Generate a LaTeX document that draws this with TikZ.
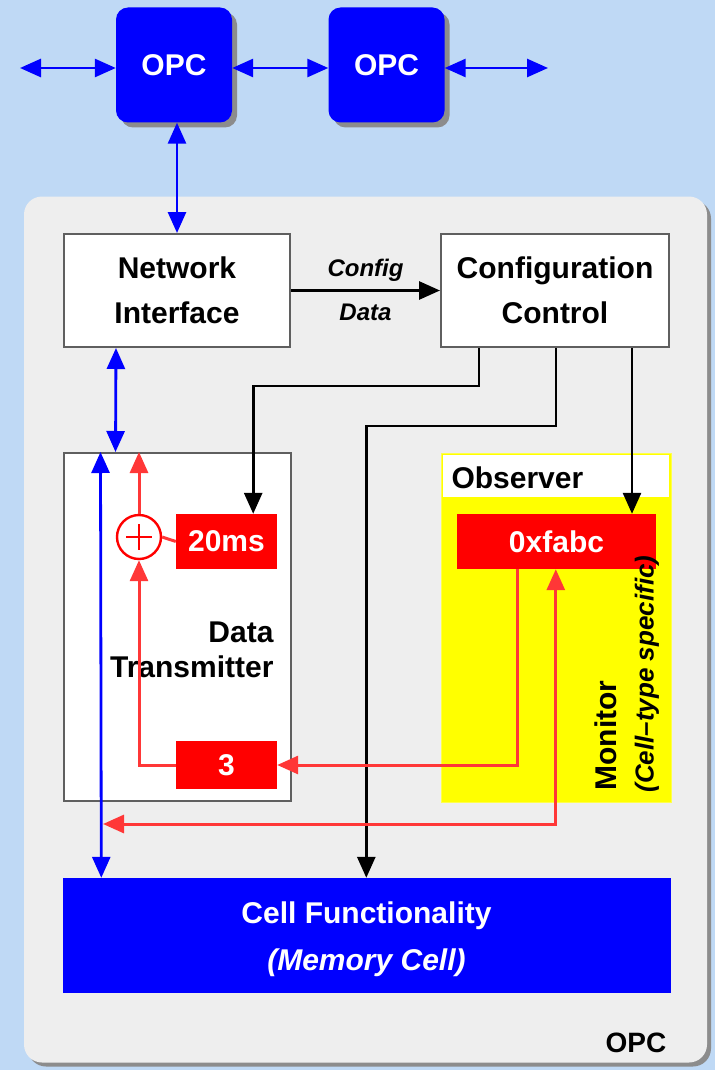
\documentclass[tikz,border=0pt]{standalone}
\usepackage{fontspec}
\setmainfont{Liberation Sans}
\usetikzlibrary{arrows.meta,shadows}
\definecolor{bgblue}{RGB}{191,217,245}
\definecolor{panel}{RGB}{238,238,238}
\definecolor{shade}{RGB}{140,140,140}
\definecolor{edge}{RGB}{95,95,95}
\definecolor{pblue}{RGB}{0,0,255}
\definecolor{pred}{RGB}{255,0,0}
\definecolor{lred}{RGB}{255,55,55}
\definecolor{pyel}{RGB}{255,255,0}
\begin{document}
\begin{tikzpicture}[x=1pt,y=-1pt,
  >={Triangle[length=21pt,width=18pt]},
  txt/.style={font=\fontsize{30}{45}\selectfont\bfseries},
  wbox/.style={draw=edge,line width=2pt,fill=white,inner sep=0pt,align=center,txt},
  rbox/.style={fill=pred,text=white,inner sep=0pt,txt},
  opcbox/.style={fill=pblue,rounded corners=12pt,minimum width=116pt,minimum height=115pt,
     inner sep=0pt,text=white,txt,
     drop shadow={shadow xshift=5pt,shadow yshift=-5pt,fill=shade,opacity=1}},
  blk/.style={draw=black,line width=2.8pt},
  bl/.style={draw=pblue,line width=2.8pt},
  rd/.style={draw=lred,line width=3pt},
]
% background
\fill[bgblue] (0,0) rectangle (715,1070);
\useasboundingbox (0,0) rectangle (715,1070);

% OPC blocks
\node[opcbox] (opc1) at (174,65) {OPC};
\node[opcbox] (opc2) at (386.5,65) {OPC};
\coordinate (lend) at (20,68);
\coordinate (rend) at (548,68);
\draw[bl,<->] (lend) -- (opc1.west |- lend);
\draw[bl,<->] (opc1.east |- lend) -- (opc2.west |- lend);
\draw[bl,<->] (opc2.east |- lend) -- (rend);

% panel
\node[fill=panel,rounded corners=18pt,minimum width=683pt,minimum height=866pt,inner sep=0pt,
  drop shadow={shadow xshift=4pt,shadow yshift=-4pt,fill=shade,opacity=1}] (panel) at (365.5,629.5) {};
\node[txt,font=\fontsize{28}{30}\selectfont\bfseries,anchor=base] (opclab) at (636,1052) {OPC};

% top boxes
\node[wbox,minimum width=226pt,minimum height=113pt] (ni) at (177,290.5) {Network\\Interface};
\node[wbox,minimum width=228pt,minimum height=113pt] (cc) at (555,290.5) {Configuration\\Control};
\draw[bl,<->] (opc1.south -| ni.north) -- (ni.north);
\draw[blk,->] (ni.east) -- (cc.west)
  node[midway,above=4pt,font=\fontsize{24}{26}\selectfont\bfseries\itshape] (cfg) {Config}
  node[midway,below=9pt,font=\fontsize{24}{26}\selectfont\bfseries\itshape] (dat) {Data};

% data transmitter
\node[wbox,minimum width=227pt,minimum height=348pt] (dt) at (177,627) {};
\node[txt,align=right,anchor=east,font=\fontsize{30}{35}\selectfont\bfseries] (dtlab) at (277,650) {Data\\Transmitter};
\node[rbox,minimum width=101pt,minimum height=55pt] (ms) at (226.5,541.5) {20ms};
\node[rbox,minimum width=101pt,minimum height=48pt] (three) at (226.5,765) {3};
\node[circle,draw=pred,fill=white,line width=2.4pt,minimum size=44pt,inner sep=0pt] (sum) at (139,537) {};
\draw[pred,line width=2.4pt] ([yshift=13pt]sum.center) -- ([yshift=-13pt]sum.center)
  ([xshift=-13pt]sum.center) -- ([xshift=13pt]sum.center);
\draw[rd] (ms.west) -- (sum.east);
\draw[rd,->] (sum.north) -- (sum.north |- dt.north);
\draw[rd,->] (three.west) -| (sum.south);

% observer
\node[fill=pyel,draw=pyel!70!white,line width=1pt,minimum width=230pt,minimum height=349pt,inner sep=0pt] (obs) at (556,627.5) {};
\node[fill=white,minimum width=226pt,minimum height=42pt,inner sep=0pt] (obshead) at (556,476) {};
\node[txt,anchor=west] (obslab) at (448,478) {Observer};
\node[rbox,minimum width=199pt,minimum height=55pt] (hex) at (556.5,541.5) {0xfabc};
\node[txt,rotate=90,anchor=west] (mon) at (606,794) {Monitor};
\node[rotate=90,anchor=west,font=\fontsize{26}{28}\selectfont\bfseries\itshape] (mon2) at (647,796) {(Cell--type specific)};

% cell functionality
\node[fill=pblue,minimum width=608pt,minimum height=115pt,inner sep=0pt,text=white,align=center] (cf) at (366.5,935.5) {};
\node[txt,text=white,anchor=base] (cft) at (366.5,923) {Cell Functionality};
\node[text=white,anchor=base,font=\fontsize{30}{32}\selectfont\bfseries\itshape] (cfm) at (366.5,970) {(Memory Cell)};

% blue links
\draw[bl,<->] ([xshift=53pt]ni.south west) -- ([xshift=53pt]dt.north west);
\draw[bl,<->] ([xshift=38pt]dt.north west) -- ([xshift=39pt]cf.north west);

% black control lines
\draw[blk,->] ([xshift=39pt]cc.south west) -- ++(0,38) -| ([xshift=-24pt]ms.north east);
\draw[blk,->] ([xshift=116pt]cc.south west) -- ++(0,78) -| ([xshift=304pt]cf.north west);
\draw[blk,->] ([xshift=77pt]cc.south) -- ([xshift=77pt]cc.south |- hex.north);

% red observer lines
\draw[rd,->] ([xshift=61pt]hex.south west) |- (three.east);
\coordinate (jn) at (103,824);
\draw[rd,<->] (jn) -| ([xshift=99pt]hex.south west);
\end{tikzpicture}
\end{document}
